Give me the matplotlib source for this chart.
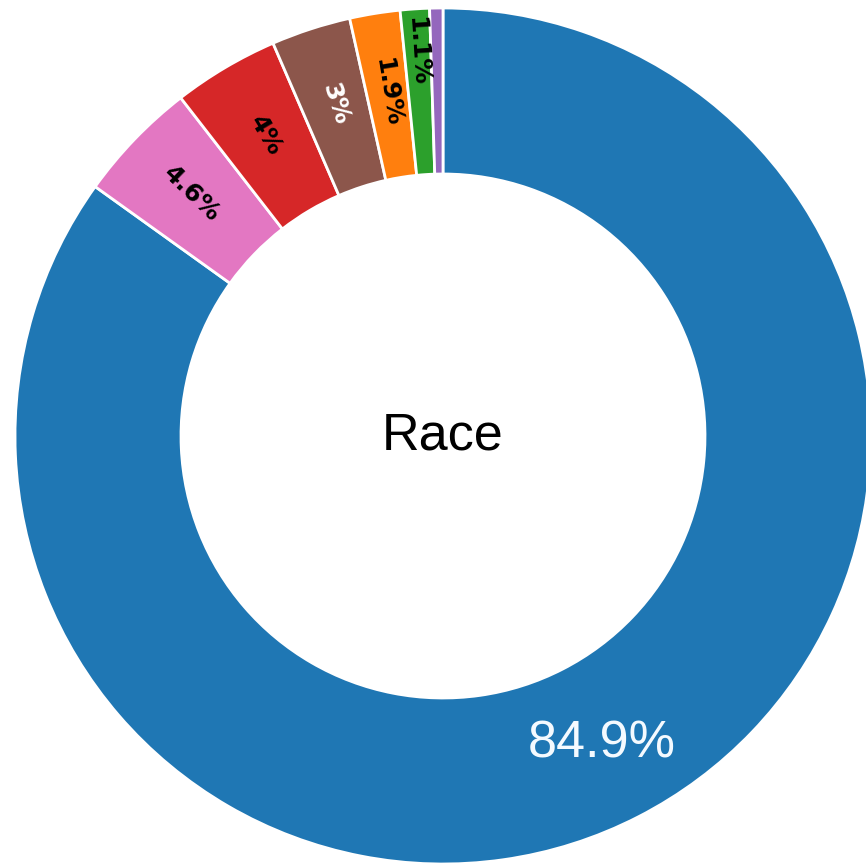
import matplotlib.pyplot as plt
import numpy as np

# race breakdown, clockwise from 12 o'clock
categories = ["White", "Hispanic", "Black", "Asian", "Two or more", "Native American", "Pacific Islander"]
shares = [84.9, 4.6, 4.0, 3.0, 1.9, 1.1, 0.5]
labels = ["84.9%", "4.6%", "4%", "3%", "1.9%", "1.1%", ""]
colors = ["#1f77b4", "#e377c2", "#d62728", "#8c564b", "#ff7f0e", "#2ca02c", "#9467bd"]
text_colors = ["white", "black", "black", "white", "black", "black", "black"]

fig = plt.figure(figsize=(8.66, 8.66), dpi=100)
ax = fig.add_axes([0, 0, 1, 1])

cx, cy = 443, 430
R = 428
ring = 166

wedges, _ = ax.pie(shares, colors=colors, startangle=90, counterclock=False,
                   center=(cx, cy), radius=R,
                   wedgeprops=dict(width=ring, edgecolor="white", linewidth=2))

ax.set_xlim(0, 866)
ax.set_ylim(0, 866)
ax.set_aspect("equal")
ax.axis("off")

for i, w in enumerate(wedges):
    if not labels[i]:
        continue
    mid = np.deg2rad((w.theta1 + w.theta2) / 2)
    if i == 0:
        r = 0.81 * R
        ax.text(cx + r * np.cos(mid), cy + r * np.sin(mid), labels[i],
                ha="center", va="center", fontsize=37.5, color="#f4faff",
                family="Liberation Sans")
        continue
    # thin slice: label pushed outward like the original
    frac = 0.9 if shares[i] < 1.5 else 0.815
    r = frac * R
    rot = np.rad2deg(mid) - 180
    ax.text(cx + r * np.cos(mid), cy + r * np.sin(mid), labels[i],
            ha="center", va="center", rotation=rot, rotation_mode="anchor",
            fontsize=18, fontweight="bold", color=text_colors[i],
            family="DejaVu Sans")

ax.text(cx, cy, "Race", ha="center", va="center", fontsize=37.5,
        color="black", family="Liberation Sans")

fig.savefig("out.png", dpi=100, facecolor="white")
